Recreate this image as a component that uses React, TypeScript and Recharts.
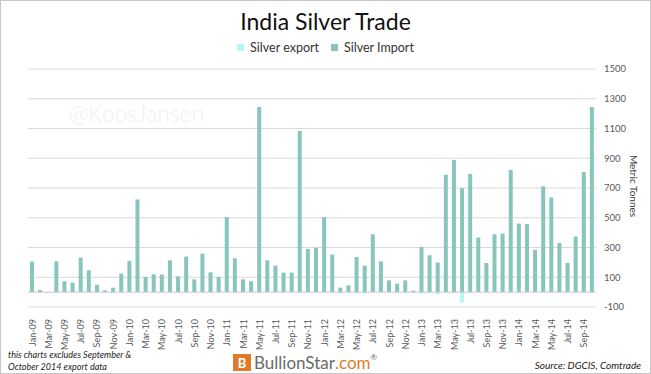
import React from 'react';
import { Bar, BarChart, CartesianGrid, ReferenceLine, XAxis, YAxis } from 'recharts';

const months = [
  'Jan-09', 'Feb-09', 'Mar-09', 'Apr-09', 'May-09', 'Jun-09', 'Jul-09', 'Aug-09', 'Sep-09', 'Oct-09', 'Nov-09', 'Dec-09',
  'Jan-10', 'Feb-10', 'Mar-10', 'Apr-10', 'May-10', 'Jun-10', 'Jul-10', 'Aug-10', 'Sep-10', 'Oct-10', 'Nov-10', 'Dec-10',
  'Jan-11', 'Feb-11', 'Mar-11', 'Apr-11', 'May-11', 'Jun-11', 'Jul-11', 'Aug-11', 'Sep-11', 'Oct-11', 'Nov-11', 'Dec-11',
  'Jan-12', 'Feb-12', 'Mar-12', 'Apr-12', 'May-12', 'Jun-12', 'Jul-12', 'Aug-12', 'Sep-12', 'Oct-12', 'Nov-12', 'Dec-12',
  'Jan-13', 'Feb-13', 'Mar-13', 'Apr-13', 'May-13', 'Jun-13', 'Jul-13', 'Aug-13', 'Sep-13', 'Oct-13', 'Nov-13', 'Dec-13',
  'Jan-14', 'Feb-14', 'Mar-14', 'Apr-14', 'May-14', 'Jun-14', 'Jul-14', 'Aug-14', 'Sep-14', 'Oct-14',
];

const silverImport = [
  205, 14, 2, 207, 73, 64, 232, 147, 50, 12, 30, 124,
  210, 623, 102, 120, 118, 214, 106, 239, 86, 259, 133, 102,
  504, 228, 86, 73, 1244, 214, 178, 131, 131, 1083, 290, 297,
  504, 252, 30, 46, 236, 178, 389, 207, 79, 57, 79, 10,
  304, 248, 199, 789, 888, 699, 795, 367, 196, 389, 394, 822,
  461, 457, 284, 712, 636, 331, 196, 374, 807, 1244,
];

// exports drawn below zero
const silverExport = [
  0, 0, 0, 0, 0, 0, 0, 0, 0, 0, 0, 0,
  0, 0, 0, 0, 0, 0, 0, 0, 0, 0, 0, 0,
  0, 0, 0, 0, 0, 0, 0, 0, 0, 0, 0, 0,
  0, 0, -8, 0, -4, -8, 0, 0, 0, 0, 0, -4,
  -10, 0, -15, 0, 0, -70, 0, 0, 0, 0, 0, 0,
  0, 0, 0, 0, 0, 0, 0, 0, 0, 0,
];

const yTicks = [-100, 100, 300, 500, 700, 900, 1100, 1300, 1500];

const chartData = months.map((month, i) => ({
  month,
  exp: silverExport[i],
  imp: silverImport[i],
}));

const FONT = 'Lato, "Open Sans", sans-serif';
const IMPORT_COLOR = '#88c6bd';
const EXPORT_COLOR = '#b4faf4';

const MonthTick = ({ x, y, payload }: any) => (
  <text
    x={x}
    y={y + 4}
    transform={`rotate(-90 ${x} ${y + 4})`}
    textAnchor="end"
    dominantBaseline="central"
    fontSize={9}
    fill="#595959"
    fontFamily={FONT}
  >
    {payload.value}
  </text>
);

const App: React.FC = () => {
  return (
    <div
      style={{
        position: 'fixed',
        top: 0,
        left: 0,
        width: 651,
        height: 374,
        background: '#fff',
        border: '1px solid #c8c8c8',
        boxSizing: 'border-box',
        fontFamily: FONT,
        overflow: 'hidden',
      }}
    >
      <div style={{ position: 'absolute', top: 6, width: '100%', textAlign: 'center', fontSize: 23, color: '#111' }}>
        India Silver Trade
      </div>
      <div
        style={{
          position: 'absolute',
          top: 39,
          width: '100%',
          display: 'flex',
          justifyContent: 'center',
          alignItems: 'center',
          fontSize: 12.5,
          color: '#333',
        }}
      >
        <span style={{ width: 7, height: 7, background: EXPORT_COLOR, marginRight: 6 }} />
        <span style={{ marginRight: 12 }}>Silver export</span>
        <span style={{ width: 7, height: 7, background: IMPORT_COLOR, marginRight: 6 }} />
        <span>Silver Import</span>
      </div>
      <div style={{ position: 'absolute', left: 68, top: 98, fontSize: 23, fontWeight: 300, color: '#f0f0f0' }}>@KoosJansen</div>

      <div style={{ position: 'absolute', top: 0, left: 0 }}>
        <BarChart
          width={651}
          height={374}
          data={chartData}
          stackOffset="sign"
          margin={{ top: 68, right: 16, left: 27, bottom: 28 }}
        >
          <CartesianGrid vertical={false} stroke="#d9d9d9" yAxisId="r" />
          <XAxis
            dataKey="month"
            interval={1}
            height={40}
            axisLine={false}
            tickLine={false}
            tick={<MonthTick />}
          />
          <YAxis yAxisId="l" orientation="left" width={0} domain={[-100, 1500]} ticks={yTicks} tick={false} axisLine={{ stroke: '#c8c8c8' }} tickLine={false} />
          <YAxis
            yAxisId="r"
            orientation="right"
            width={40}
            domain={[-100, 1500]}
            ticks={yTicks}
            axisLine={false}
            tickLine={false}
            tickSize={0}
            tickMargin={8}
            tick={{ fontSize: 9.5, fill: '#595959', fontFamily: FONT, textAnchor: 'start' }}
          />
          <ReferenceLine y={0} yAxisId="r" stroke="#c8c8c8" />
          <Bar dataKey="exp" yAxisId="r" stackId="a" fill={EXPORT_COLOR} barSize={4} isAnimationActive={false} />
          <Bar dataKey="imp" yAxisId="r" stackId="a" fill={IMPORT_COLOR} barSize={4} isAnimationActive={false} />
        </BarChart>
      </div>

      <div
        style={{
          position: 'absolute',
          left: 633,
          top: 185,
          transform: 'translate(-50%, -50%) rotate(90deg)',
          fontSize: 10,
          color: '#404040',
          whiteSpace: 'nowrap',
        }}
      >
        Metric Tonnes
      </div>

      <div style={{ position: 'absolute', left: 7, top: 348, fontSize: 9, fontStyle: 'italic', color: '#222', lineHeight: '12px' }}>
        this charts excludes September &amp;
        <br />
        October 2014 export data
      </div>

      <div style={{ position: 'absolute', left: 232, top: 351, display: 'flex', alignItems: 'center' }}>
        <div
          style={{
            width: 18,
            height: 17,
            background: '#e07b2a',
            color: '#fff',
            fontSize: 13,
            fontWeight: 700,
            display: 'flex',
            alignItems: 'center',
            justifyContent: 'center',
            marginRight: 3,
          }}
        >
          B
        </div>
        <span style={{ fontSize: 17, color: '#6b6b6b' }}>BullionStar</span>
        <span style={{ fontSize: 17, color: '#e07b2a' }}>.com</span>
        <sup style={{ fontSize: 8, color: '#6b6b6b', alignSelf: 'flex-start' }}>®</sup>
      </div>

      <div style={{ position: 'absolute', right: 9, top: 358, fontSize: 10, fontStyle: 'italic', color: '#222' }}>
        Source: DGCIS, Comtrade
      </div>
    </div>
  );
};

export default App;
